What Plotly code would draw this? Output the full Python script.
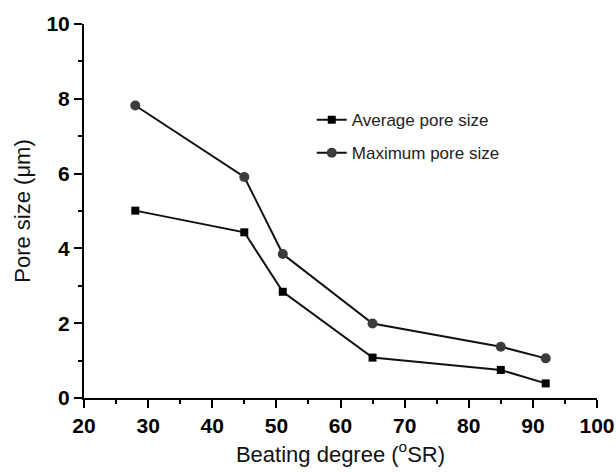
import plotly.graph_objects as go

beating = [28, 45, 51, 65, 85, 92]
avg_pore = [5.01, 4.43, 2.84, 1.08, 0.75, 0.39]
max_pore = [7.82, 5.91, 3.85, 1.99, 1.37, 1.06]

x_ticks = [20, 30, 40, 50, 60, 70, 80, 90, 100]
y_ticks = [0, 2, 4, 6, 8, 10]

fig = go.Figure()
fig.add_trace(go.Scatter(
    x=beating, y=avg_pore, mode="lines+markers", name="Average pore size",
    legendgroup="avg",
    line=dict(color="#111111", width=2),
    marker=dict(symbol="square", size=8, color="black"),
))
fig.add_trace(go.Scatter(
    x=beating, y=max_pore, mode="lines+markers", name="Maximum pore size",
    legendgroup="max",
    line=dict(color="#111111", width=2),
    marker=dict(symbol="circle", size=10, color="#3c3c3c"),
))

axis_common = dict(
    showline=True, linecolor="black", linewidth=2, mirror=False,
    ticks="outside", ticklen=8, tickwidth=2, tickcolor="black",
    showgrid=False, zeroline=False, automargin=False,
    tickfont=dict(family="Arial, Liberation Sans", size=21, color="black", weight=700),
)
minor_common = dict(ticks="outside", ticklen=4, tickwidth=2, tickcolor="black")

fig.update_layout(
    width=616, height=473,
    margin=dict(l=84, r=19, t=24, b=75),
    paper_bgcolor="white", plot_bgcolor="white",
    font=dict(family="Liberation Sans", color="black"),
    showlegend=True,
    legend=dict(
        x=0.444, y=0.791, xanchor="left", yanchor="top",
        bgcolor="rgba(0,0,0,0)", font=dict(size=17, family="Liberation Sans", color="#222222"),
        itemwidth=30, tracegroupgap=8,
    ),
    xaxis=dict(
        range=[20, 100], tickvals=x_ticks, ticktext=[f"<b>{v}</b>" for v in x_ticks],
        minor=dict(dtick=5, tick0=20, **minor_common),
        title=dict(text="Beating degree (<sup>o</sup>SR)", font=dict(size=22, family="Liberation Sans", color="#111111"), standoff=10),
        **axis_common,
    ),
    yaxis=dict(
        range=[0, 10], tickvals=y_ticks, ticktext=[f"<b>{v}</b>" for v in y_ticks],
        minor=dict(dtick=1, tick0=0, **minor_common),
        title=dict(text="Pore size (μm)", font=dict(size=22, family="Liberation Sans", color="#111111"), standoff=10),
        **axis_common,
    ),
)

fig.write_html(
    "out.html",
    config={"displayModeBar": False},
    post_script="document.body.style.margin='0';document.body.style.overflow='hidden';",
)
